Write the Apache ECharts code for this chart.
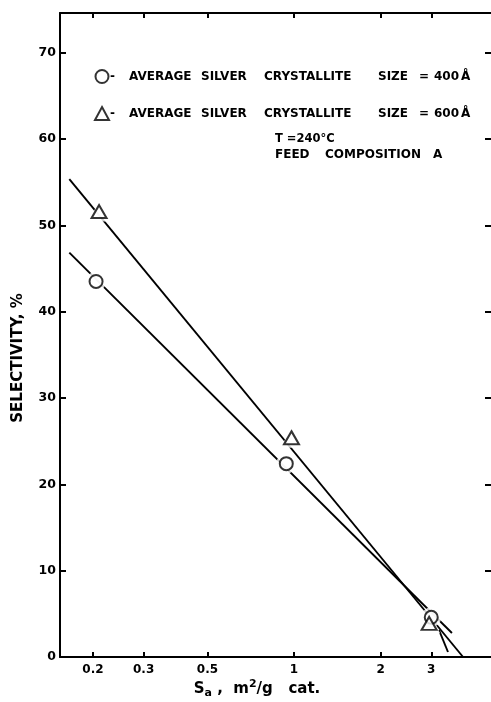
<!DOCTYPE html>
<html>
<head>
<meta charset="utf-8">
<script src="https://cdn.jsdelivr.net/npm/echarts@6/dist/echarts.min.js"></script>
<style>
  html, body { margin: 0; padding: 0; background: #fff; }
  #chart { width: 491px; height: 702px; }
</style>
</head>
<body>
<div id="chart"></div>
<script>
// Selectivity vs. specific surface area, two crystallite sizes
const xTicks = [0.2, 0.3, 0.5, 1, 2, 3];
const xTickLabels = ['0.2', '0.3', '0.5', '1', '2', '3'];

// measured points: [Sa (m2/g cat.), selectivity %]
const size400 = [[0.205, 43.5], [0.94, 22.4], [3.0, 4.6]];
const size600 = [[0.21, 51.6], [0.98, 25.4], [2.95, 3.9]];

// hand-drawn correlation lines (end points)
const line400 = [[0.1655, 46.85], [3.54, 2.78]];
const line600 = [[0.1655, 55.35], [3.87, 0]];
const lineTail = [[3.19, 3.13], [3.43, 0.58]];

const name400 = 'AVERAGE SILVER CRYSTALLITE SIZE= 400 Å';
const name600 = 'AVERAGE SILVER CRYSTALLITE SIZE= 600 Å';

const FONT = '"DejaVu Sans", sans-serif';
const INK = '#000';

const chart = echarts.init(document.getElementById('chart'), null, { renderer: 'canvas' });

const xBase = {
  type: 'log',
  logBase: 10,
  min: 0.1536,
  max: 4.84,
  axisLine: { show: true, onZero: false, lineStyle: { color: INK, width: 2 } },
  axisTick: { show: true, inside: true, length: 5, customValues: xTicks, lineStyle: { color: INK, width: 2 } },
  splitLine: { show: false },
  minorTick: { show: false },
  minorSplitLine: { show: false }
};

const yBase = {
  type: 'value',
  min: 0,
  max: 74.6,
  interval: 10,
  axisTick: { show: true, inside: true, length: 6, lineStyle: { color: INK, width: 2 } },
  splitLine: { show: false }
};

const lineSeries = (data) => ({
  type: 'line',
  data: data,
  symbol: 'none',
  silent: true,
  lineStyle: { color: INK, width: 1.9 },
  z: 2
});

// fixed-width word slots for the hand-lettered legend lines
const bold12 = { fontFamily: FONT, fontWeight: 'bold', fontSize: 12, color: INK };
const slot = (w) => Object.assign({ width: w }, bold12);
const legendRich = {
  d: slot(19), a: slot(72), s: slot(63), c: slot(114),
  z: slot(41), e: slot(15), n: slot(27), u: slot(12)
};
const legendFormatter = (name) => {
  const size = name.match(/(\d+) Å/)[1];
  return '{d|-}{a|AVERAGE}{s|SILVER}{c|CRYSTALLITE}{z|SIZE}{e|=}{n|' + size + '}{u|Å}';
};

chart.setOption({
  animation: false,
  backgroundColor: '#fff',
  grid: { left: 60, right: 0, top: 13, bottom: 45, containLabel: false, show: false },
  xAxis: [
    Object.assign({}, xBase, {
      position: 'bottom',
      axisLabel: {
        show: true, customValues: xTicks, margin: 7,
        color: INK, fontFamily: FONT, fontWeight: 'bold', fontSize: 12,
        formatter: (v) => {
          const i = xTicks.findIndex(t => Math.abs(t - v) < 1e-6);
          return i >= 0 ? xTickLabels[i] : '';
        }
      }
    }),
    Object.assign({}, xBase, { position: 'top', axisLabel: { show: false } })
  ],
  yAxis: [
    Object.assign({}, yBase, {
      position: 'left',
      axisLine: { show: true, onZero: false, lineStyle: { color: INK, width: 2 } },
      axisLabel: {
        show: true, showMaxLabel: false, margin: 4,
        color: INK, fontFamily: FONT, fontWeight: 'bold', fontSize: 12.5
      }
    }),
    Object.assign({}, yBase, {
      position: 'right',
      axisLine: { show: false },
      axisLabel: { show: false }
    })
  ],
  legend: {
    orient: 'vertical',
    left: 89,
    top: 64,
    itemGap: 22,
    itemWidth: 14,
    itemHeight: 13,
    selectedMode: false,
    data: [
      { name: name400, icon: 'circle' },
      { name: name600, icon: 'triangle' }
    ],
    formatter: legendFormatter,
    textStyle: Object.assign({ padding: [0, 0, 0, -4], rich: legendRich }, bold12)
  },
  graphic: [
    {
      type: 'text', left: 275, top: 133,
      style: { text: 'T =240°C', fill: INK, font: 'bold 11.5px "DejaVu Sans", sans-serif' }
    },
    {
      type: 'text', left: 275, top: 149,
      style: {
        text: '{f|FEED}{c|COMPOSITION}{a|A}', fill: INK,
        font: 'bold 12px "DejaVu Sans", sans-serif',
        rich: {
          f: { width: 50, font: 'bold 12px "DejaVu Sans", sans-serif', fill: INK },
          c: { width: 108, font: 'bold 12px "DejaVu Sans", sans-serif', fill: INK },
          a: { font: 'bold 12px "DejaVu Sans", sans-serif', fill: INK }
        }
      }
    },
    {
      type: 'text', x: 18, y: 358, rotation: Math.PI / 2,
      style: {
        text: 'SELECTIVITY, %', fill: INK,
        font: 'bold 15px "DejaVu Sans", sans-serif',
        align: 'center', verticalAlign: 'middle'
      }
    },
    {
      type: 'text', x: 257, y: 689,
      style: {
        text: 'S{sub|a} ,  m{sup|2}/g   cat.',
        fill: INK, align: 'center', verticalAlign: 'middle',
        font: 'bold 15px "DejaVu Sans", sans-serif',
        rich: {
          sub: { font: 'bold 11px "DejaVu Sans", sans-serif', fill: INK, padding: [9, 0, 0, 0] },
          sup: { font: 'bold 11px "DejaVu Sans", sans-serif', fill: INK, padding: [0, 0, 9, 0] }
        }
      }
    }
  ],
  series: [
    lineSeries(line400),
    lineSeries(line600),
    lineSeries(lineTail),
    // white halos that open a small gap in the lines around each marker
    {
      type: 'scatter', data: size400, symbol: 'circle', symbolSize: 20, silent: true,
      itemStyle: { color: '#fff' }, z: 3
    },
    {
      type: 'scatter', data: size600, symbol: 'triangle', symbolSize: [22, 20], silent: true,
      itemStyle: { color: '#fff' }, z: 3
    },
    {
      name: name400, type: 'scatter', data: size400, symbol: 'circle', symbolSize: 13,
      itemStyle: { color: '#fff', borderColor: INK, borderWidth: 2 }, z: 4
    },
    {
      name: name600, type: 'scatter', data: size600, symbol: 'triangle', symbolSize: [15, 13],
      itemStyle: { color: '#fff', borderColor: INK, borderWidth: 2 }, z: 4
    }
  ]
});
</script>
</body>
</html>
